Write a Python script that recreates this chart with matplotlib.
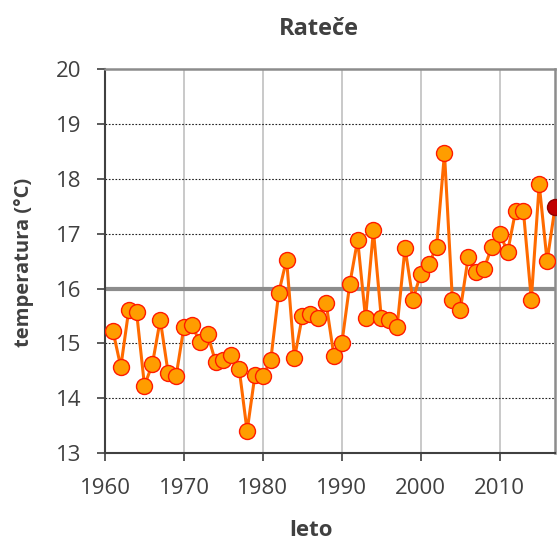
import matplotlib
matplotlib.use('Agg')
import matplotlib.pyplot as plt

# annual mean temperature, Rateče
years = list(range(1961, 2018))
temps = [15.23, 14.57, 15.60, 15.57, 14.23, 14.62, 15.43, 14.46, 14.40, 15.30,
         15.33, 15.03, 15.17, 14.66, 14.70, 14.79, 14.53, 13.40, 14.43, 14.40,
         14.70, 15.92, 16.53, 14.73, 15.50, 15.54, 15.46, 15.74, 14.77, 15.00,
         16.08, 16.89, 15.46, 17.06, 15.46, 15.43, 15.30, 16.74, 15.80, 16.27,
         16.44, 16.76, 18.47, 15.80, 15.60, 16.57, 16.30, 16.36, 16.76, 17.00,
         16.67, 17.41, 17.41, 15.80, 17.90, 16.50, 17.48]
mean_temp = 16.0
xticks = [1960, 1970, 1980, 1990, 2000, 2010]
yticks = [13, 14, 15, 16, 17, 18, 19, 20]

txt = '#404040'
plt.rcParams['font.family'] = ['Open Sans', 'DejaVu Sans']

fig = plt.figure(figsize=(5.57, 5.45), dpi=100)
ax = fig.add_axes([105 / 557, 1 - 453 / 545, 450 / 557, (453 - 69.3) / 545])

# grid
for x in xticks[1:]:
    ax.axvline(x, color='#c0c0c0', lw=1.2, zorder=1)
for y in yticks[1:-1]:
    ax.axhline(y, color='#202020', lw=0.8, ls=(0, (1.5, 1.5)), zorder=1)

# mean line
ax.axhline(mean_temp, color='#8c8c8c', lw=3, zorder=2)

# series
ax.plot(years, temps, color='#ff6a00', lw=2.2, zorder=3)
ax.plot(years[:-1], temps[:-1], ls='none', marker='o', ms=11.5,
        mfc='#ff9d00', mec='#ff1a00', mew=1, zorder=4)
ax.plot(years[-1:], temps[-1:], ls='none', marker='o', ms=11.5,
        mfc='#c00000', mec='#900000', mew=1, zorder=5, clip_on=False)

ax.set_xlim(1960, 2017)
ax.set_ylim(13, 20)
ax.set_xticks(xticks)
ax.set_yticks(yticks)
ax.tick_params(axis='both', direction='out', length=6, width=1.2, color='#404040',
               labelsize=16, labelcolor=txt)
ax.tick_params(axis='x', pad=12)
ax.tick_params(axis='y', pad=11)

for s in ['left', 'bottom']:
    ax.spines[s].set_color('#404040')
    ax.spines[s].set_linewidth(1.5)
for s in ['top', 'right']:
    ax.spines[s].set_color('#8c8c8c')
    ax.spines[s].set_linewidth(1.8)

fig.text(319 / 557, 1 - 29 / 545, 'Rateče', ha='center', va='center',
         fontsize=17, fontweight='bold', color=txt)
fig.text(311 / 557, 1 - 530 / 545, 'leto', ha='center', va='center',
         fontsize=16, fontweight='bold', color=txt)
fig.text(24 / 557, 1 - 262 / 545, 'temperatura (°C)', ha='center', va='center',
         rotation=90, fontsize=14.5, fontweight='bold', color=txt)

fig.savefig('out.png', dpi=100)
